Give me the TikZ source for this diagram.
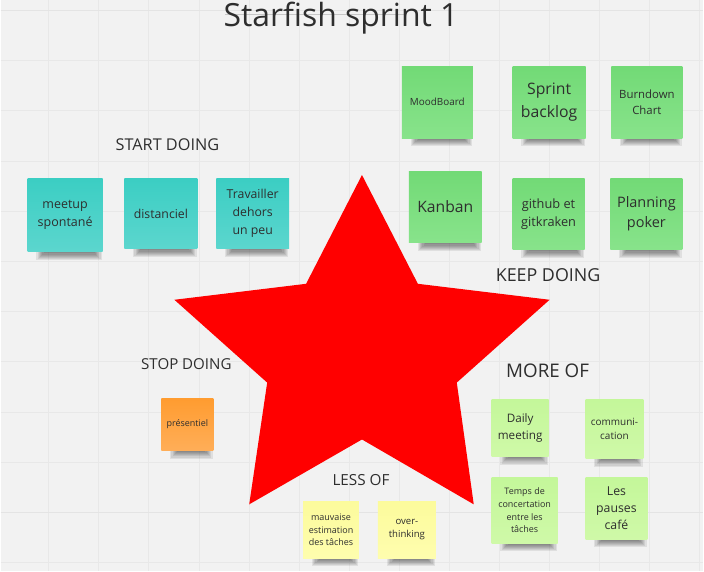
\documentclass[tikz,border=0pt]{standalone}
\usepackage{fontspec}
\setmainfont{Open Sans}

\definecolor{board}{HTML}{F2F2F2}
\definecolor{gridminor}{HTML}{E8E8E8}
\definecolor{gridmajor}{HTML}{E4E4E4}
\definecolor{ink}{HTML}{2E2E2E}
\definecolor{cyanA}{HTML}{3BCEC3}
\definecolor{cyanB}{HTML}{5CD6CE}
\definecolor{greenA}{HTML}{72DA76}
\definecolor{greenB}{HTML}{88E38B}
\definecolor{orangeA}{HTML}{FF9C30}
\definecolor{orangeB}{HTML}{FFAE58}
\definecolor{yellowA}{HTML}{FCFB9C}
\definecolor{yellowB}{HTML}{FEFDAE}
\definecolor{limeA}{HTML}{C4F79A}
\definecolor{limeB}{HTML}{CFF9A8}

\pgfdeclarelayer{board}
\pgfdeclarelayer{shade}
\pgfsetlayers{board,shade,main}

\tikzset{
  sticky/.style={inner sep=2pt, align=center, text=ink},
  cyannote/.style={sticky, top color=cyanA, bottom color=cyanB},
  greennote/.style={sticky, top color=greenA, bottom color=greenB},
  orangenote/.style={sticky, top color=orangeA, bottom color=orangeB},
  yellownote/.style={sticky, top color=yellowA, bottom color=yellowB},
  limenote/.style={sticky, top color=limeA, bottom color=limeB},
  heading/.style={text=ink, inner sep=0pt},
  shadelayer/.style={black, opacity=0.075},
}
\newcommand{\fs}[2]{\fontsize{#1}{#2}\selectfont}

\begin{document}
\begin{tikzpicture}[x=1pt, y=-1pt]
  \begin{pgfonlayer}{board}
    % board and grid
    \fill[board] (0,0) rectangle (704,572);
    \foreach \k in {0,...,13} {
      \draw[gridminor, line width=0.8pt] ({48+50.2*\k},0) -- ({48+50.2*\k},572);
    }
    \foreach \k in {0,...,11} {
      \draw[gridminor, line width=0.8pt] (0,{10+50.3*\k}) -- (704,{10+50.3*\k});
    }
    \draw[gridmajor, line width=1.5pt] (0,10) -- (704,10);
    \draw[gridmajor, line width=1.5pt] (0,513) -- (704,513);

    % the star
    \fill[red] (362,175) -- (418,284) -- (550,300) -- (457,383) -- (474,505)
      -- (362,440) -- (249,505) -- (267,383) -- (174,300) -- (306,284) -- cycle;
  \end{pgfonlayer}
  \useasboundingbox (0,0) rectangle (704,572);

  % title
  \draw[black!22, line width=1.2pt] (225,14.5) -- (405,14.5);
  \node[heading, font=\fs{32}{38}] (title) at (341,18) {Starfish sprint 1};

  % section headings
  \node[heading, font=\fs{16.3}{20}] (start) at (167,145) {START DOING};
  \node[heading, font=\fs{17.9}{22}] (keep) at (548.5,275) {KEEP DOING};
  \node[heading, font=\fs{15.1}{18}] (stop) at (186,364) {STOP DOING};
  \node[heading, font=\fs{15.3}{18}] (less) at (361,480.5) {LESS OF};
  \node[heading, font=\fs{18.8}{22}] (more) at (548,371) {MORE OF};

  % start doing
  \node[cyannote, minimum width=75pt, minimum height=74pt, font=\fs{12.5}{17.7}]
    (meetup) at (64.5,215) {meetup\\spontané};
  \node[cyannote, minimum width=73pt, minimum height=71pt, font=\fs{12.3}{17.7}]
    (distanciel) at (160.5,213.5) {distanciel};
  \node[cyannote, minimum width=73pt, minimum height=71pt, font=\fs{12.3}{17.8}]
    (dehors) at (252.5,213.5) {Travailler\\dehors\\un peu};

  % keep doing
  \node[greennote, minimum width=71pt, minimum height=72pt, font=\fs{9.9}{13}]
    (mood) at (437.5,102) {MoodBoard};
  \node[greennote, minimum width=73pt, minimum height=72pt, font=\fs{15.8}{22.7}]
    (backlog) at (549.5,102) {Sprint\\backlog};
  \node[greennote, minimum width=71pt, minimum height=72pt, font=\fs{11.4}{16}]
    (burndown) at (647.5,102) {Burndown\\Chart};
  \node[greennote, minimum width=73pt, minimum height=72pt, font=\fs{15.7}{20}]
    (kanban) at (445.5,207) {Kanban};
  \node[greennote, minimum width=72pt, minimum height=72pt, font=\fs{12.8}{18.3}]
    (github) at (549,214) {github et\\gitkraken};
  \node[greennote, minimum width=72pt, minimum height=72pt, font=\fs{14.5}{20}]
    (poker) at (647,214) {Planning\\poker};

  % stop doing
  \node[orangenote, minimum width=52pt, minimum height=52pt, font=\fs{9}{12}]
    (presentiel) at (187,425) {présentiel};

  % less of
  \node[yellownote, minimum width=56pt, minimum height=57pt, font=\fs{9}{12.3}]
    (estimation) at (331,530.5) {mauvaise\\estimation\\des tâches};
  \node[yellownote, minimum width=58pt, minimum height=57pt, font=\fs{9.6}{13.3}]
    (overthinking) at (407,530.5) {over-\\thinking};

  % more of
  \node[limenote, minimum width=57pt, minimum height=57pt, font=\fs{11.7}{17.3}]
    (daily) at (520.5,428.5) {Daily\\meeting};
  \node[limenote, minimum width=58pt, minimum height=59pt, font=\fs{10}{13.3}]
    (communication) at (615,429.5) {communi-\\cation};
  \node[limenote, minimum width=66pt, minimum height=66pt, font=\fs{9}{12.7}]
    (concertation) at (525,511) {Temps de\\concertation\\entre les\\tâches};
  \node[limenote, minimum width=62pt, minimum height=62pt, font=\fs{12.3}{17}]
    (pauses) at (617,509) {Les\\pauses\\café};

  % soft drop shadows under the bottom edge of every sticky note
  \begin{pgfonlayer}{shade}
    \foreach \n in {meetup,distanciel,dehors,mood,backlog,burndown,kanban,github,
                    poker,presentiel,estimation,overthinking,daily,communication,
                    concertation,pauses} {
      \foreach \i in {0,...,6} {
        \fill[shadelayer]
          ([xshift={9pt+1.2pt*\i}, yshift=2pt]\n.south west)
          rectangle ([xshift={-1pt-1.2pt*\i}, yshift={-(8pt-1.1pt*\i)}]\n.south east);
      }
    }
  \end{pgfonlayer}
\end{tikzpicture}
\end{document}
